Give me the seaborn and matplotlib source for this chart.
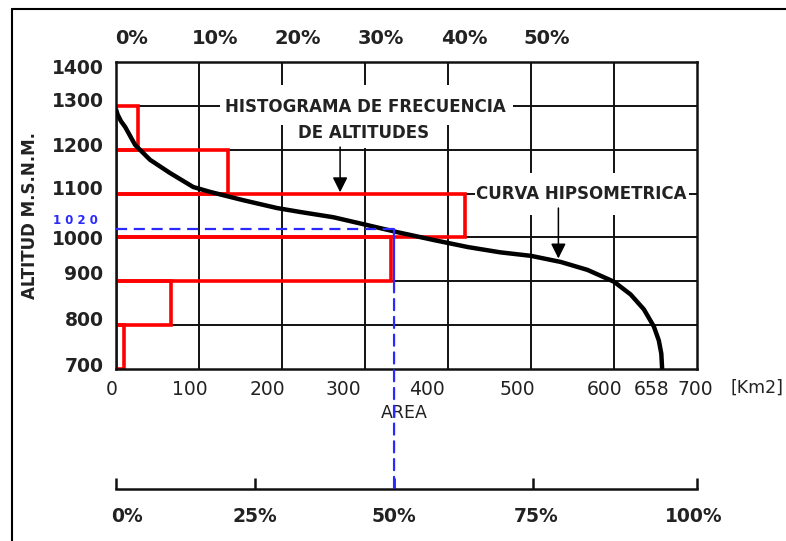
import matplotlib
matplotlib.use("Agg")
import matplotlib.pyplot as plt
import matplotlib.transforms as mtransforms
from matplotlib.patches import Rectangle, ConnectionPatch
from matplotlib.lines import Line2D
import seaborn as sns

# ---------------- data ----------------
curve_area = [0, 2, 6, 11, 23, 41, 65, 93, 113, 153, 194, 222, 262, 303, 339,
              383, 424, 463, 500, 536, 568, 600, 620, 636, 648, 654, 657, 658]
curve_alt = [1292, 1280, 1265, 1252, 1211, 1177, 1147, 1115, 1104, 1085, 1067,
             1058, 1046, 1028, 1012, 994, 978, 966, 958, 944, 926, 899, 870,
             836, 797, 765, 735, 700]

hist_low = [700, 800, 900, 1000, 1100, 1200]
hist_area = [10, 66, 331, 421, 135, 26]

x_ticks = [0, 100, 200, 300, 400, 500, 600, 658, 700]
x_tick_labels = ["0", "100", "200", "300", "400", "500", "600", "658", "700"]
y_ticks = [700, 800, 900, 1000, 1100, 1200, 1300, 1400]
y_tick_labels = ["700", "800", "900", "1000", "1100", "1200", "1300", "1400"]
grid_x = [100, 200, 300, 400, 500, 600]
grid_y = [800, 900, 1000, 1100, 1200, 1300]
top_pct_ticks = [0, 100, 200, 300, 400, 500]
top_pct_labels = ["0%", "10%", "20%", "30%", "40%", "50%"]
bottom_pct_pos = [0, 167, 335, 503, 700]
bottom_pct_labels = ["0%", "25%", "50%", "75%", "100%"]
mark_alt = 1020
mark_area = 335

# label nudges in pixels (layout only)
x_label_dx = [-4, -9, -15, -22, -21, -14, -9, -11, -2]
y_label_dy = [4, 7, 9, 0, 6, 5, 6, -4]
top_label_dx = 16
bottom_label_dx = [11, 0, 0, 3, -3]

# ---------------- style ----------------
sns.set_style("white")
plt.rcParams["font.family"] = ["DejaVu Sans"]

W, H = 786, 541
fig = plt.figure(figsize=(W / 100, H / 100), dpi=100)
ax = fig.add_axes([116 / W, 1 - 369 / H, 581 / W, 307 / H])
ax.set_xlim(0, 700)
ax.set_ylim(700, 1400)

def px(v):
    return v / 100.0

# grid lines
for gx in grid_x:
    ax.axvline(gx, color="#111111", lw=1.4, zorder=0.5)
for gy in grid_y:
    ax.axhline(gy, color="#111111", lw=1.4, zorder=0.5)

ax.set_xticks(x_ticks, x_tick_labels)
ax.set_yticks(y_ticks, y_tick_labels)
ax.tick_params(which="both", length=0)
ax.tick_params(axis="x", labelsize=13.5, pad=8, colors="#222222")
ax.tick_params(axis="y", labelsize=13.5, pad=9, colors="#222222")
for lbl in ax.get_yticklabels():
    lbl.set_fontweight("bold")
for lbl, dx in zip(ax.get_xticklabels(), x_label_dx):
    lbl.set_transform(lbl.get_transform() + mtransforms.ScaledTranslation(px(dx), 0, fig.dpi_scale_trans))
for lbl, dy in zip(ax.get_yticklabels(), y_label_dy):
    lbl.set_transform(lbl.get_transform() + mtransforms.ScaledTranslation(0, px(dy), fig.dpi_scale_trans))

for s in ax.spines.values():
    s.set_visible(True)
    s.set_color("#111111")
    s.set_linewidth(1.8)
    s.set_zorder(2.5)

# white boxes behind annotation texts (hide gridlines)
for (x0, x1, y0, y1) in [(125, 478, 1256, 1348), (220, 376, 1204, 1256), (433, 690, 1051, 1147)]:
    ax.add_patch(Rectangle((x0, y0), x1 - x0, y1 - y0, facecolor="white",
                           edgecolor="none", zorder=1.5))

# histogram
ax.barh(y=hist_low, width=hist_area, height=100, left=0, align="edge",
        fill=False, edgecolor="#ff0000", linewidth=2.6, zorder=2.2)

# hypsometric curve
sns.lineplot(x=curve_area, y=curve_alt, sort=False, estimator=None,
             color="black", lw=3.2, ax=ax, zorder=4)
ax.lines[-1].set_solid_capstyle("butt")
ax.lines[-1].set_solid_joinstyle("round")
ax.set_xlabel("")
ax.set_ylabel("")

# blue marker lines
blue = "#2a2aff"
ax.plot([0, mark_area], [mark_alt, mark_alt], color=blue, lw=1.6,
        ls=(0, (5, 3)), zorder=5)
ax.plot([mark_area, mark_area], [mark_alt, 900], color=blue, lw=1.6, zorder=5)

# top percent axis
top = ax.secondary_xaxis("top")
top.set_xticks(top_pct_ticks, top_pct_labels)
top.tick_params(length=0, labelsize=14, pad=10, colors="#222222")
top.spines["top"].set_visible(False)
for lbl in top.get_xticklabels():
    lbl.set_fontweight("bold")
    lbl.set_transform(lbl.get_transform() + mtransforms.ScaledTranslation(px(top_label_dx), 0, fig.dpi_scale_trans))

# bottom percent axis
ax2 = fig.add_axes([116 / W, 1 - 489 / H, 581 / W, 0.03])
ax2.set_xlim(0, 700)
ax2.set_ylim(0, 1)
ax2.patch.set_visible(False)
for k in ["top", "left", "right"]:
    ax2.spines[k].set_visible(False)
ax2.spines["bottom"].set_linewidth(1.8)
ax2.spines["bottom"].set_color("#111111")
ax2.set_yticks([])
ax2.set_xticks(bottom_pct_pos, bottom_pct_labels)
ax2.tick_params(axis="x", bottom=True, direction="in", length=8, width=1.8,
                labelsize=13.5, pad=13, colors="#111111", labelcolor="#222222")
for lbl, dx in zip(ax2.get_xticklabels(), bottom_label_dx):
    lbl.set_fontweight("bold")
    lbl.set_transform(lbl.get_transform() + mtransforms.ScaledTranslation(px(dx), 0, fig.dpi_scale_trans))

con = ConnectionPatch(xyA=(mark_area, 900), coordsA=ax.transData,
                      xyB=(mark_area, 0), coordsB=ax2.transData,
                      color=blue, lw=1.6, ls=(0, (5, 3)), zorder=5)
fig.add_artist(con)

# annotations
ax.text(301, 1297, "HISTOGRAMA DE FRECUENCIA", ha="center", va="center",
        fontsize=12, fontweight="bold", color="#222222", zorder=6)
ax.text(298, 1238, "DE ALTITUDES", ha="center", va="center",
        fontsize=12, fontweight="bold", color="#222222", zorder=6)
ax.text(561, 1100, "CURVA HIPSOMETRICA", ha="center", va="center",
        fontsize=12, fontweight="bold", color="#222222", zorder=6)
arrow = dict(arrowstyle="-|>,head_length=0.6,head_width=0.3", color="black",
             lw=1.1, shrinkA=0, shrinkB=0, mutation_scale=15)
ax.annotate("", xy=(270, 1103), xytext=(270, 1206), arrowprops=arrow, zorder=6)
ax.annotate("", xy=(533, 952), xytext=(533, 1067), arrowprops=arrow, zorder=6)

# 1020 label
fig.text(75 / W, 1 - 220 / H, "1 0 2 0", color=blue, fontsize=8.5,
         fontweight="bold", ha="center", va="center")

# axis titles
ax.set_ylabel("ALTITUD M.S.N.M.", fontsize=12, fontweight="bold", color="#222222")
ax.yaxis.set_label_coords((39 - 116) / 581, 0.50)
fig.text(404 / W, 1 - 413 / H, "AREA", fontsize=12.5, ha="center", va="center",
         color="#222222")
fig.text(730 / W, 1 - 388 / H, "[Km2]", fontsize=12.5, ha="left", va="center",
         color="#222222")

# outer frame
fig.add_artist(Line2D([12 / W, 12 / W], [0, 1 - 9 / H], transform=fig.transFigure,
                      color="black", lw=1.5))
fig.add_artist(Line2D([12 / W, 1], [1 - 9 / H, 1 - 9 / H], transform=fig.transFigure,
                      color="black", lw=1.5))

fig.savefig("out.png", dpi=100)
